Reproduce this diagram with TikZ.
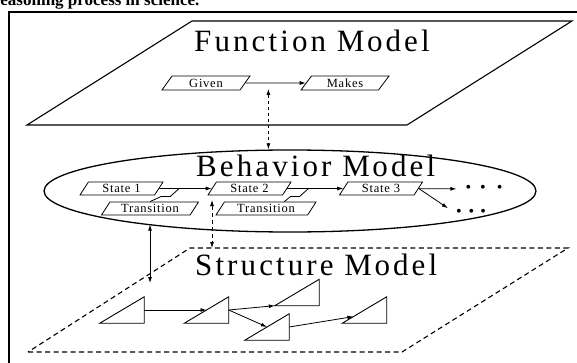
\documentclass[tikz,border=0pt]{standalone}
\usepackage{fontspec}
\setmainfont{Liberation Serif}
\usetikzlibrary{shapes, arrows.meta, calc, positioning}

\newcommand{\modelname}[1]{#1 M\kern2.5pt odel}

\begin{document}
\begin{tikzpicture}[x=1pt, y=-1pt,
            plane/.style={line width=1.1pt},
            title/.style={anchor=base west, inner sep=0pt,
                font=\fontsize{31}{31}\selectfont\addfontfeature{LetterSpace=10}},
            pbox/.style={trapezium, trapezium left angle=45, trapezium right angle=135,
                trapezium stretches body=true, draw, line width=.8pt,
                inner xsep=1pt, inner ysep=0pt, minimum height=13pt, minimum width=83pt,
                font=\fontsize{12.5}{12.5}\selectfont\addfontfeature{LetterSpace=6}},
            flow/.style={-{Latex[length=6pt,width=4pt]}, line width=.8pt},
            link/.style={{Latex[length=6pt,width=4pt]}-{Latex[length=6pt,width=4pt]}, line width=.8pt},
            dots/.style={inner ysep=1pt, font=\fontsize{16}{16}\selectfont},
            tri/.style={minimum width=44pt, minimum height=26pt, inner sep=0pt}]
\useasboundingbox (0,0) rectangle (577,363);

\node[anchor=base west, inner sep=0pt, font=\fontsize{17}{17}\selectfont\bfseries]
    (cap) at (-7,6) {reasoning process in science.};
\draw[line width=1.1pt] (9,375) -- (9,12) -- (590,12);

% function model
\draw[plane] (27,125) -- (407,125) -- (572,21) -- (192,21) -- cycle;
\node[title] (funtitle) at (194,52) {\modelname{Function}};
\node[pbox, minimum height=14pt, minimum width=88pt, trapezium left angle=40, trapezium right angle=140]
    (given) at (206,83) {Given};
\node[pbox, minimum height=14pt, minimum width=88pt, trapezium left angle=40, trapezium right angle=140]
    (makes) at (345,83) {Makes};
\draw[flow] (given) -- coordinate[pos=.38] (gm) (makes);

% behavior model
\node[ellipse, draw, line width=1.3pt, minimum width=492pt, minimum height=82pt, inner sep=0pt]
    (beh) at (290,191) {};
\node[title] (behtitle) at (196,177) {\modelname{Behavior}};
\node[pbox] (st1) at (121.5,188.5) {State 1};
\node[pbox] (st2) at (249.5,188.5) {State 2};
\node[pbox] (st3) at (381,188.5) {State 3};
\node[pbox, minimum width=97pt] (tr1) at (150,208.5) {Transition};
\node[pbox, minimum width=100pt] (tr2) at (266,208.5) {Transition};
\draw[flow] (st1) -- coordinate[pos=.38] (k1) (st2);
\draw[flow] (st2) -- coordinate[pos=.38] (k2) (st3);
\draw[line width=.8pt] (k1) -- ++(-9,8) -- ++(-9,0) -- ($(tr1.top left corner)!.45!(tr1.top right corner)$);
\draw[line width=.8pt] (k2) -- ++(-9,8) -- ++(-9,0) -- ($(tr2.top left corner)!.65!(tr2.top right corner)$);
\node[dots, inner xsep=9pt] (more1) at (484,189) {\textbullet\hspace{9pt}\textbullet\hspace{11pt}\textbullet};
\node[dots, inner xsep=8pt] (more2) at (471,213) {\textbullet\hspace{7pt}\textbullet\hspace{6pt}\textbullet};
\draw[flow] (st3) -- (more1);
\draw[flow] (st3.east) -- (more2.north west);

\draw[link, dashed, shorten <=6pt] (gm) -- (gm |- beh.north);

% structure model
\coordinate (sTL) at (190,248);
\coordinate (t1low) at (150,283);
\coordinate (st2low) at (212,200);
\draw[plane, dash pattern=on 5pt off 3.5pt] (28,352) -- (402,352) -- (568,248) -- (sTL) -- cycle;
\node[title] (strtitle) at (195,275) {\modelname{Structure}};
\foreach \n/\x/\y in {t1/122/310, t2/206.5/310, t3/297/292.5, t4/267/327, t5/364.5/310}{
    \node[tri] (\n) at (\x,\y) {};
    \draw[line width=.9pt] (\n.south west) -- (\n.south east) -- (\n.north east) -- cycle;
}
\draw[flow] (t1.east) -- (t2.center);
\draw[flow] (t2.east) -- (t3.south west);
\draw[flow] (t2.east) -- (t4.center);
\draw[flow] (t4.east) -- ($(t5.south west)!.25!(t5.north east)$);

\draw[link] (t1low |- beh.193.5) -- (t1low);
\draw[link, dash pattern=on 4pt off 3pt] (st2low) -- (st2low |- sTL);
\end{tikzpicture}
\end{document}
